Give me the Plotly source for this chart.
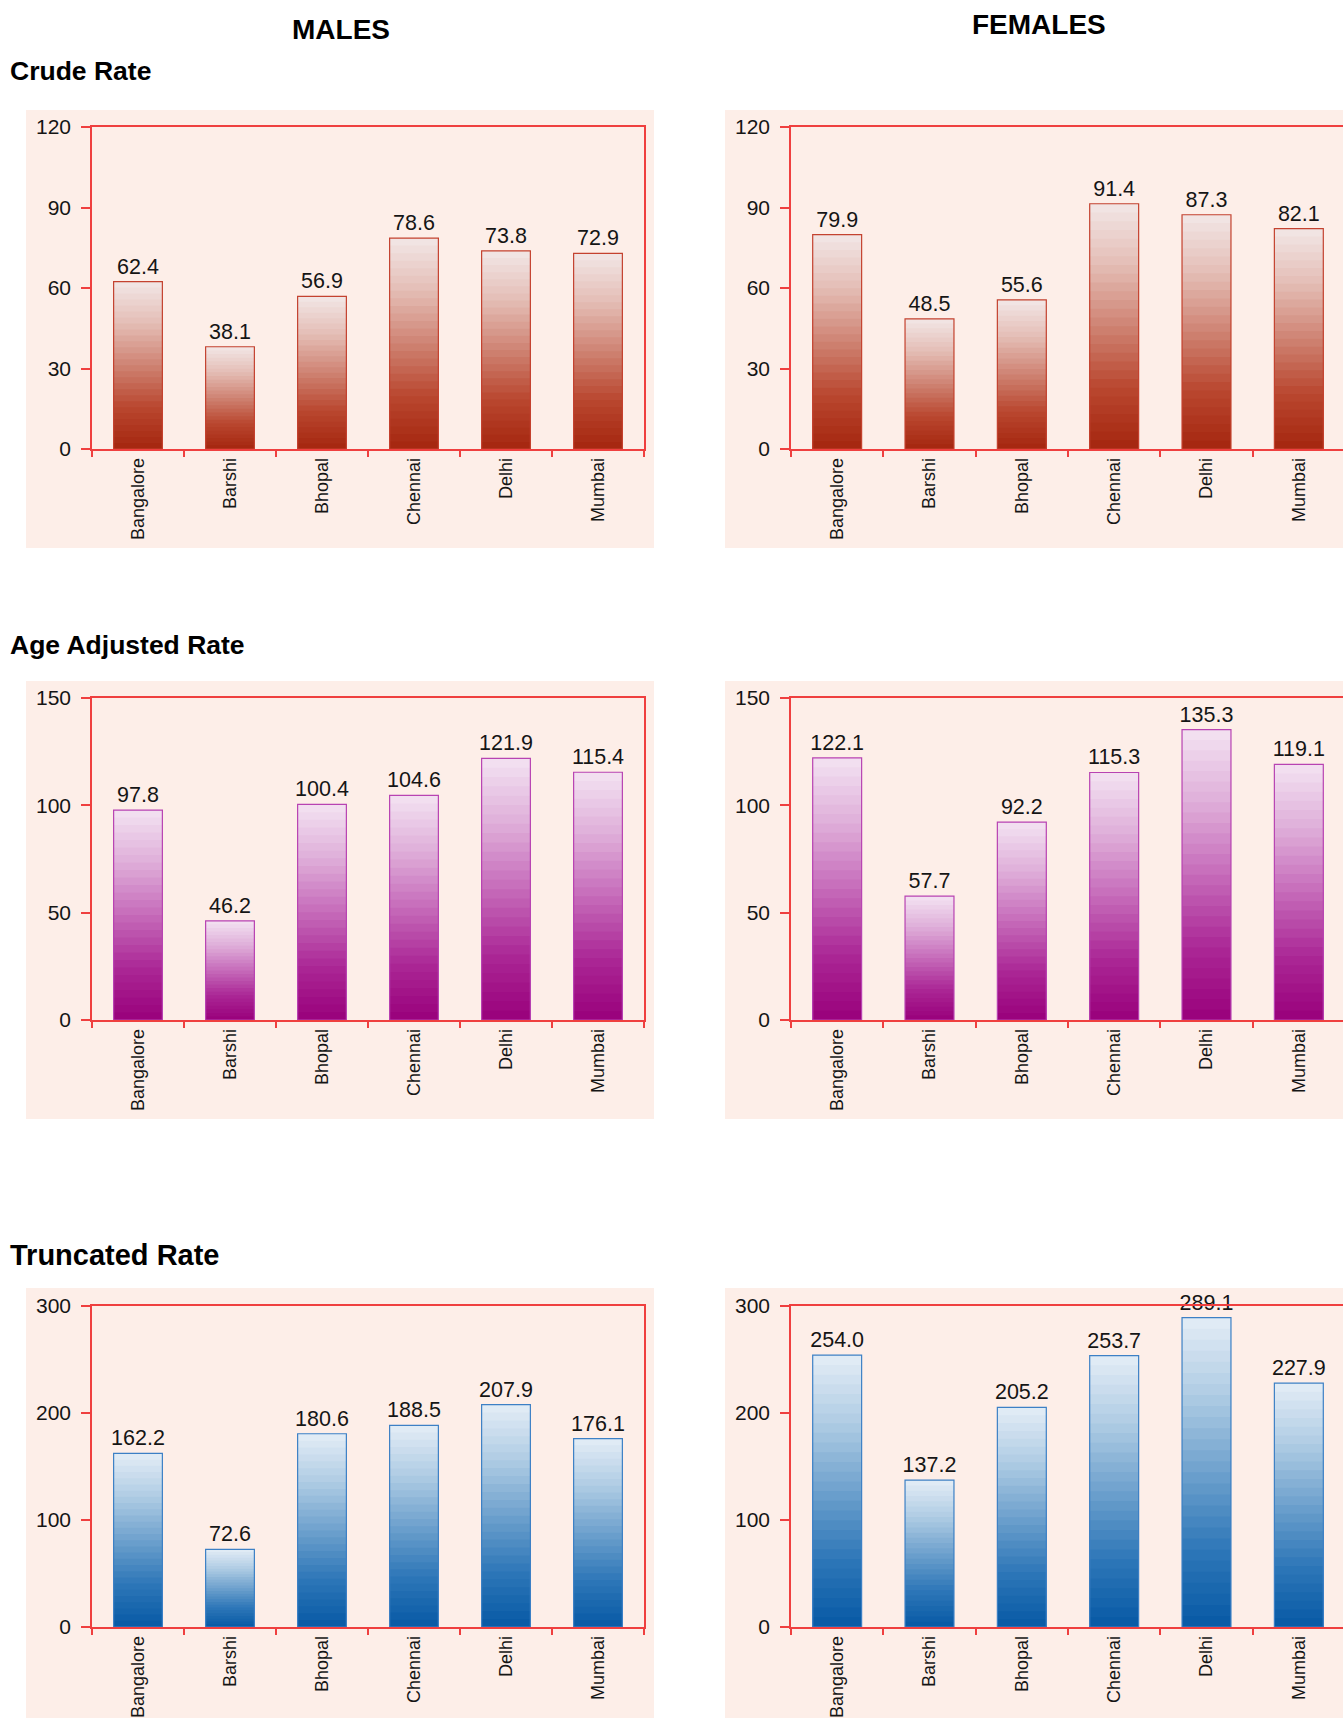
import plotly.graph_objects as go

# ---------------- data ----------------
cities = ["Bangalore", "Barshi", "Bhopal", "Chennai", "Delhi", "Mumbai"]

male_crude = [62.4, 38.1, 56.9, 78.6, 73.8, 72.9]
female_crude = [79.9, 48.5, 55.6, 91.4, 87.3, 82.1]

male_age_adj = [97.8, 46.2, 100.4, 104.6, 121.9, 115.4]
female_age_adj = [122.1, 57.7, 92.2, 115.3, 135.3, 119.1]

male_trunc = [162.2, 72.6, 180.6, 188.5, 207.9, 176.1]
female_trunc = [254.0, 137.2, 205.2, 253.7, 289.1, 227.9]

crude_ticks = [0, 30, 60, 90, 120]
age_ticks = [0, 50, 100, 150]
trunc_ticks = [0, 100, 200, 300]

column_titles = ["MALES", "FEMALES"]
row_titles = ["Crude Rate", "Age Adjusted Rate", "Truncated Rate"]

# ---------------- styling ----------------
W, H = 1345, 1718
FONT = "Liberation Sans, Arial, Helvetica, sans-serif"
AXIS_RED = "#ef3f3f"
PANEL_BG = "#fdeee8"
TEXT = "#151515"

schemes = {
    "red": {
        "scale": [(0.0, "#a5260f"), (0.25, "#b9472f"), (0.5, "#cf8373"),
                  (0.75, "#e4bdb5"), (1.0, "#f2e7e7")],
        "line": "#c4422f",
    },
    "purple": {
        "scale": [(0.0, "#99007b"), (0.25, "#ab2896"), (0.5, "#c66bba"),
                  (0.75, "#dfaed9"), (1.0, "#f3e3f2")],
        "line": "#b843b2",
    },
    "blue": {
        "scale": [(0.0, "#0759a5"), (0.25, "#2e77b8"), (0.5, "#6ea1cd"),
                  (0.75, "#afcce4"), (1.0, "#e4edf6")],
        "line": "#3d80c5",
    },
}


def hex2rgb(h):
    h = h.lstrip("#")
    return tuple(int(h[i:i + 2], 16) for i in (0, 2, 4))


def sample(scale, t):
    for (p0, c0), (p1, c1) in zip(scale[:-1], scale[1:]):
        if p0 <= t <= p1:
            f = (t - p0) / (p1 - p0) if p1 > p0 else 0
            a, b = hex2rgb(c0), hex2rgb(c1)
            return "rgb(%d,%d,%d)" % tuple(round(a[i] + (b[i] - a[i]) * f) for i in range(3))
    return scale[-1][1]


def px_x(p):
    return p / W


def px_y(p):
    return 1 - p / H


# rows: (top px, zero px, panel top px, panel bottom px)
rows = [
    (127, 449, 110, 548),
    (698, 1020, 681, 1119),
    (1306, 1627, 1288, 1722),
]
cols = [
    (92, 644, 26, 654),     # plot left, plot right, panel left, panel right
    (791, 1345, 725, 1360),
]

panels = [
    (0, 0, male_crude, crude_ticks, "red"),
    (0, 1, female_crude, crude_ticks, "red"),
    (1, 0, male_age_adj, age_ticks, "purple"),
    (1, 1, female_age_adj, age_ticks, "purple"),
    (2, 0, male_trunc, trunc_ticks, "blue"),
    (2, 1, female_trunc, trunc_ticks, "blue"),
]

fig = go.Figure()
layout = dict(
    width=W, height=H,
    margin=dict(l=0, r=0, t=0, b=0, pad=0, autoexpand=False),
    paper_bgcolor="white",
    plot_bgcolor="rgba(0,0,0,0)",
    barmode="overlay",
    showlegend=False,
    font=dict(family=FONT, color=TEXT),
    shapes=[], annotations=[],
)

BAR_W = 0.53
N_BANDS = 28

for i, (r, c, vals, ticks, sch) in enumerate(panels, start=1):
    xa = "x" if i == 1 else "x%d" % i
    ya = "y" if i == 1 else "y%d" % i
    top, zero, ptop, pbot = rows[r]
    left, right, pleft, pright = cols[c]
    scale = schemes[sch]["scale"]

    # background panel
    layout["shapes"].append(dict(
        type="rect", xref="paper", yref="paper", layer="below",
        x0=px_x(pleft), x1=min(1.0, px_x(pright)),
        y0=max(0.0, px_y(pbot)), y1=px_y(ptop),
        fillcolor=PANEL_BG, line=dict(width=0),
    ))

    # gradient bands (stacked overlay of the same bars, light at the top)
    for k in range(N_BANDS):
        frac = (N_BANDS - k) / N_BANDS
        col = sample(scale, (N_BANDS - k - 0.5) / N_BANDS)
        fig.add_trace(go.Bar(
            x=cities, y=[v * frac for v in vals], width=BAR_W,
            marker=dict(color=col, line=dict(width=0)),
            xaxis=xa, yaxis=ya, hoverinfo="skip",
        ))

    # data bar: outline + value labels
    fig.add_trace(go.Bar(
        x=cities, y=vals, width=BAR_W,
        marker=dict(color="rgba(0,0,0,0)",
                    line=dict(color=schemes[sch]["line"], width=1.2)),
        text=vals, texttemplate="%{y:.1f}", textposition="outside",
        textfont=dict(size=21.5, color=TEXT, family=FONT),
        constraintext="none", cliponaxis=False,
        xaxis=xa, yaxis=ya,
    ))

    layout["xaxis" if i == 1 else "xaxis%d" % i] = dict(
        domain=[px_x(left), min(1.0, px_x(right))],
        anchor=ya, type="category", automargin=False,
        showline=True, linecolor=AXIS_RED, linewidth=1.6, mirror=True,
        ticks="outside", tickson="boundaries", ticklen=6,
        tickcolor=AXIS_RED, tickwidth=1.5,
        tickangle=-90, tickfont=dict(size=18, color=TEXT, family=FONT),
        showgrid=False, zeroline=False, fixedrange=True,
    )
    layout["yaxis" if i == 1 else "yaxis%d" % i] = dict(
        domain=[px_y(zero), px_y(top)],
        anchor=xa, range=[0, ticks[-1]], tickmode="array", tickvals=ticks,
        automargin=False,
        showline=True, linecolor=AXIS_RED, linewidth=1.6, mirror=True,
        ticks="outside", ticklen=9, tickcolor=AXIS_RED, tickwidth=1.5,
        ticklabelstandoff=6,
        tickfont=dict(size=21, color=TEXT, family=FONT),
        showgrid=False, zeroline=False, fixedrange=True,
    )

# column titles
layout["annotations"].append(dict(
    text="<b>%s</b>" % column_titles[0], xref="paper", yref="paper",
    x=px_x(341), y=px_y(30), xanchor="center", yanchor="middle",
    showarrow=False, font=dict(size=28, color="black", family=FONT)))
layout["annotations"].append(dict(
    text="<b>%s</b>" % column_titles[1], xref="paper", yref="paper",
    x=px_x(1039), y=px_y(24), xanchor="center", yanchor="middle",
    showarrow=False, font=dict(size=28, color="black", family=FONT)))

# row titles
for title, ypx, size in zip(row_titles, [71, 645, 1255], [26.5, 26.5, 29]):
    layout["annotations"].append(dict(
        text="<b>%s</b>" % title, xref="paper", yref="paper",
        x=px_x(8), y=px_y(ypx), xanchor="left", yanchor="middle",
        showarrow=False, font=dict(size=size, color="black", family=FONT)))

fig.update_layout(**layout)

fig.write_html(
    "out.html",
    config={"displayModeBar": False},
    post_script="document.body.style.margin='0';document.body.style.overflow='hidden';",
)
